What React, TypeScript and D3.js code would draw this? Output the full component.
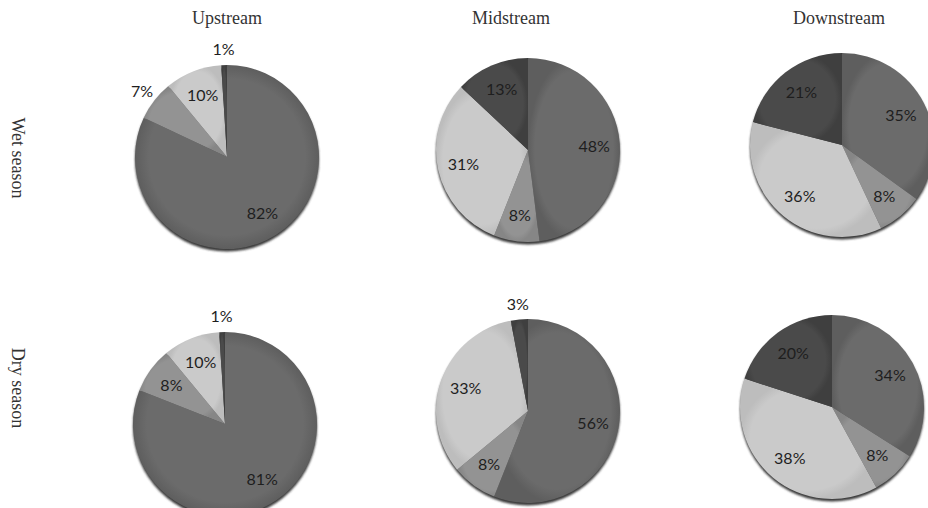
import React from "react";
import * as d3 from "d3";

const seasons = ["Wet season", "Dry season"];
const reaches = ["Upstream", "Midstream", "Downstream"];
const categories = ["A", "B", "C", "D"];
const wetUpstream = [82, 7, 10, 1];
const wetMidstream = [48, 8, 31, 13];
const wetDownstream = [35, 8, 36, 21];
const dryUpstream = [81, 8, 10, 1];
const dryMidstream = [56, 8, 33, 3];
const dryDownstream = [34, 8, 38, 20];
// labels drawn outside the pie: [season index, reach index, category index]
const outsideLabels: [number, number, number][] = [
  [0, 0, 1],
  [0, 0, 3],
  [1, 0, 3],
  [1, 1, 3],
];

const W = 928;
const H = 508;
const R = 92;
const centers = [
  [[227, 157], [528, 150], [842, 145]],
  [[225, 424], [528, 411], [832, 407]],
];
const titleX = [227, 511, 839];
const rowLabelY = [158, 388];
const colors = ["#6b6b6b", "#939393", "#cacaca", "#4a4a4a"];
const gradEdge = ["#5e5e5e", "#868686", "#bdbdbd", "#3f3f3f"];

const seriesValues = [
  [wetUpstream, wetMidstream, wetDownstream],
  [dryUpstream, dryMidstream, dryDownstream],
];

export default function App() {
  const pie = d3
    .pie<number>()
    .sort(null)
    .value((d) => d);
  const arc = d3.arc<d3.PieArcDatum<number>>().innerRadius(0).outerRadius(R);
  const inner = d3
    .arc<d3.PieArcDatum<number>>()
    .innerRadius(R * 0.72)
    .outerRadius(R * 0.72);
  const outer = d3
    .arc<d3.PieArcDatum<number>>()
    .innerRadius(R * 1.17)
    .outerRadius(R * 1.17);
  const color = d3.scaleOrdinal<string, string>().domain(categories).range(colors);
  const edge = d3.scaleOrdinal<string, string>().domain(categories).range(gradEdge);

  return (
    <svg width={W} height={H} style={{ position: "absolute", left: 0, top: 0, background: "#fff" }}>
      <defs>
        {categories.map((c) => (
          <radialGradient key={c} id={"g" + c} cx="0.5" cy="0.5" r="0.5" gradientUnits="objectBoundingBox">
            <stop offset="0%" stopColor={color(c)} />
            <stop offset="85%" stopColor={color(c)} />
            <stop offset="100%" stopColor={edge(c)} />
          </radialGradient>
        ))}
        <filter id="blur" x="-20%" y="-20%" width="140%" height="140%">
          <feGaussianBlur stdDeviation="1.2" />
        </filter>
      </defs>
      {reaches.map((t, i) => (
        <text
          key={t}
          x={titleX[i]}
          y={24}
          textAnchor="middle"
          fontFamily="'Liberation Serif', 'Times New Roman', serif"
          fontSize={18}
          fill="#333"
        >
          {t}
        </text>
      ))}
      {seasons.map((s, i) => (
        <text
          key={s}
          transform={`translate(12,${rowLabelY[i]}) rotate(90)`}
          textAnchor="middle"
          fontFamily="'Liberation Serif', 'Times New Roman', serif"
          fontSize={18}
          fill="#333"
        >
          {s}
        </text>
      ))}
      {seriesValues.map((row, si) =>
        row.map((vals, ri) => {
          const [cx, cy] = centers[si][ri];
          const arcs = pie(vals);
          return (
            <g key={si + "-" + ri} transform={`translate(${cx},${cy})`}>
              <circle cx={0} cy={2.5} r={R} fill="#3a3a3a" filter="url(#blur)" />
              {arcs.map((a, k) => (
                <path
                  key={k}
                  d={arc(a) || ""}
                  fill={`url(#g${categories[k]})`}
                  stroke="none"
                />
              ))}
              {arcs.map((a, k) => {
                const isOut = outsideLabels.some(
                  (o) => o[0] === si && o[1] === ri && o[2] === k
                );
                const [lx, ly] = (isOut ? outer : inner).centroid(a);
                return (
                  <text
                    key={"l" + k}
                    x={lx}
                    y={ly}
                    dy="0.36em"
                    textAnchor="middle"
                    fontFamily="Lato, 'Open Sans', sans-serif"
                    fontSize={16}
                    fill="#1e1e1e"
                  >
                    {vals[k] + "%"}
                  </text>
                );
              })}
            </g>
          );
        })
      )}
    </svg>
  );
}
